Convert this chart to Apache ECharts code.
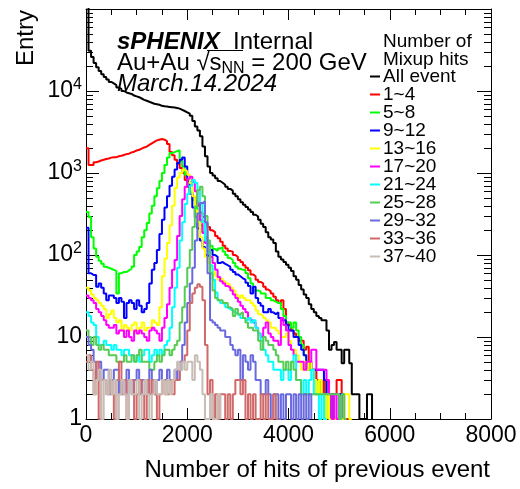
<!DOCTYPE html>
<html><head><meta charset="utf-8">
<script src="https://cdn.jsdelivr.net/npm/echarts@6/dist/echarts.min.js"></script>
<style>html,body{margin:0;padding:0;background:#fff}#c{width:520px;height:489px}</style>
</head><body><div id="c"></div>
<script>
const binWidth = 50;
const xMin = 0, xMax = 8000, xStep = 2000;
const yMin = 1, yMax = 100000;
const legendTitle = ['Number of', 'Mixup hits'];
const seriesNames = ['All event','1~4','5~8','9~12','13~16','17~20','21~24','25~28','29~32','33~36','37~40'];
const colors = ['#000000','#ff0000','#00ff00','#0000ff','#ffff00','#ff00ff','#00ffff','#55cc55','#6a6ae0','#d06a6a','#c8bdb5'];

const allEvent = [110000,31000,26000,22000,19500,17500,16000,14800,13800,12900,
 12400,11800,11000,10600,10000,9600,9400,9200,8800,8600,
 8400,8100,7800,7600,7400,7200,7000,6900,6800,6600,
 6500,6450,6400,6350,6300,6200,6100,5900,5700,5500,
 5300,5000,4300,3700,3300,2800,2100,1600,1200,1000,
 930,860,800,760,720,680,640,610,560,520,
 480,440,410,385,360,335,310,295,270,240,
 220,190,165,155,140,110,95,88,82,76,
 70,64,55,50,43,38,33,30,25,22,
 20,18,17,16,16,12,7,8,8.7,7,
 7,4.8,7,7,4.8,2,2,2,1,1,
 1,2,2];
const hits1to4 = [2000,1250,1250,1350,1380,1420,1450,1480,1500,1540,
 1560,1560,1600,1620,1660,1700,1720,1780,1820,1880,
 1920,1980,2050,2100,2200,2300,2400,2500,2550,2600,
 2550,2450,2250,1800,1650,1450,1300,1150,1000,820,
 680,580,510,450,400,330,290,240,220,200,
 190,170,160,145,130,120,112,110,100,95,
 87,82,75,70,65,58,55,50,47,45,
 41,38,36,34,31,28,26,28,22,15,
 14,12,11,10,9,9,7,7.6,5,4,
 4,3,3,2,3,2,2,1,2,3,
 3,2,1,1];
const hits5to8 = [335,290,165,120,95,85,78,72,70,68,
 66,64,34,60,62,62,65,68,72,100,
 110,125,165,200,245,320,400,520,650,800,
 1000,1250,1550,1750,1800,1850,1900,1400,1200,950,
 700,590,470,380,300,230,190,165,140,130,
 118,112,120,125,110,100,92,87,80,72,
 68,66,66,60,52,45,37,37,36,34,
 34,30,30,28,27,26,26,22,18,15,
 15,13,15,12,10,8,6,5,4,4,
 3,2,3,2,1,2,1,2,1];
const hits9to12 = [215,60,57,57,41,45,40,34,28,32,
 32,30,26,30,27,17,26,28,26,22,
 28,24,20,22,26,45,66,80,115,180,
 270,380,520,700,900,1100,1320,1450,1550,1200,
 800,560,380,290,210,150,125,100,95,115,
 100,95,80,82,78,75,72,66,62,58,
 55,52,50,46,42,34,41,30,26,24,
 20,20,22,20,19,20,17,16,16,14,
 12,12,10,10,8,7,6,4,5,4,
 4,4,4,4,3,2,1,2,1,1,2];
const hits13to16 = [40,37,33,30,28,26,24,22,17,19,
 21,17,15,16,12,14,13,12,14,15,
 11,13,15,12,13,13,16,15,14,23,
 55,90,140,230,400,650,880,1000,1100,1050,
 950,750,520,350,250,165,120,95,80,70,
 62,56,50,52,48,45,43,40,37,33,
 30,32,30,28,28,26,24,21,19,18,
 17,16,15,13,13,12,11,10,10,11,
 9,7,7,6,5,4,5,4,5,4,
 3,2,3,2,1,2,1,1,1,1,
 1,1,2,2,1];
const hits17to20 = [32,30,28,26,22,20,18,16,14,13,
 13,14,11,12,12,10,12,10,9,12,
 11,12,11,10,9,12,13,12,11,9,
 13,17,25,40,66,87,170,300,480,680,
 850,900,780,600,420,270,185,140,110,95,
 80,66,54,48,45,42,40,37,33,30,
 27,24,22,20,17,16,15,13,11,10,
 13,15,11,10,9,9,8,17,14,12,
 8,7,6,5,5,5,4,5,5,7,
 7,4,4,4,4,3,2,1,2,1];
const hits21to24 = [20,18,15,14,10,8,8,9,8,8,
 7,8,7,7,6,7,7,6,6,5,
 6,5,6,7,7,5,6,7,6,7,
 6,8,9,13,23,40,70,150,250,420,
 560,700,820,760,620,420,250,150,106,75,
 50,35,28,26,25,23,22,21,20,19,
 18,17,17,16,17,15,16,13,11,9,
 7,6,5,5,4,4,4,3,4,4,
 3,5,6,3,3,2,3,2,3,4,
 2,2,1,2,1];
const hits25to28 = [12,10,8,10,8,7,8,7,7,6,
 6,6,5,5,5,6,5,5,6,5,
 6,7,5,5,5,4,4,5,6,5,
 6,7,7,6,7,8,9,15,23,41,
 70,115,220,390,620,680,520,300,150,60,
 37,30,28,28,26,26,23,22,18,22,
 19,20,17,15,13,13,12,12,9,7,
 10,9,8,8,7,6,5,5,4,5,
 4,5,4,3,3,2,2,2,2,2,
 2,2,2,2,2,2,2,2,2,2,
 1,2,1];
const hits29to32 = [10,8,7,5,3,5,3,4,4,2,
 3,4,4,2,3,2,4,3,2,3,
 4,2,3,3,2,4,3,2,3,4,
 3,3,4,3,3,4,3,5,8,15,
 26,45,70,150,320,430,450,250,60,16,
 15,14,13,12,12,10,10,8,7,6,
 7,3,6,5,4,6,5,3,3,2,
 2,3,2,1,2,2,1,2,1,2,
 2,1,2,1,2,1,2,1,2];
const hits33to36 = [5,6,4,2,5,1,3,3,2,3,
 2,1,3,5,2,3,1,3,3,1,
 2,3,2,1,3,2,3,2,1,2,
 3,2,2,3,2,3,3,4,5,6,
 12,26,34,40,44,41,28,8,2,3,
 1,2,1,2,2,1,2,1,2,3,
 3,2,3,1,2,1,2,1,1,2,
 1,2,1,1,2,1];
const hits37to40 = [6,4,5,2,3,4,1,3,2,4,
 2,3,1,2,3,2,1,3,2,2,
 3,1,2,3,2,1,2,3,2,2,
 3,2,3,2,3,4,5,4,5,4,
 5,5,3,6,5,4,2,1,1,2,
 1,1,2];

const histos = [allEvent,hits1to4,hits5to8,hits9to12,hits13to16,hits17to20,hits21to24,hits25to28,hits29to32,hits33to36,hits37to40];
const FONT = '"Liberation Sans", Arial, sans-serif';

function toSteps(vals){
  const pts = vals.map((v,i)=>[i*binWidth, v]);
  pts.push([vals.length*binWidth, vals[vals.length-1]]);
  pts.push([vals.length*binWidth, yMin]);
  return pts;
}

const chart = echarts.init(document.getElementById('c'), null, {renderer:'canvas'});
const axisLineStyle = {show:true, onZero:false, lineStyle:{color:'#000', width:1}};
const option = {
  animation:false,
  backgroundColor:'#fff',
  grid:{left:86, right:29, top:9, bottom:70},
  xAxis:[
    {type:'value', min:xMin, max:xMax, interval:xStep, position:'bottom',
     axisLine:axisLineStyle,
     axisTick:{show:true, inside:true, length:11, lineStyle:{color:'#000'}},
     minorTick:{show:true, splitNumber:4, length:6, lineStyle:{color:'#000'}},
     splitLine:{show:false}, minorSplitLine:{show:false},
     axisLabel:{fontSize:23, fontFamily:FONT, color:'#000', margin:5, showMinLabel:true, showMaxLabel:true,
       formatter:function(v){return String(v);}}},
    {type:'value', min:xMin, max:xMax, interval:xStep, position:'top',
     axisLine:axisLineStyle,
     axisTick:{show:true, inside:true, length:11, lineStyle:{color:'#000'}},
     minorTick:{show:true, splitNumber:4, length:6, lineStyle:{color:'#000'}},
     splitLine:{show:false}, axisLabel:{show:false}}
  ],
  yAxis:[
    {type:'log', logBase:10, min:yMin, max:yMax, position:'left',
     axisLine:axisLineStyle,
     axisTick:{show:true, inside:true, length:13, lineStyle:{color:'#000'}},
     splitLine:{show:false},
     axisLabel:{fontSize:23, fontFamily:FONT, color:'#000', margin:4,
       formatter:function(v){const e=Math.round(Math.log10(v)); if(e===0)return '1'; if(e===1)return '10'; if(e>=5)return ''; return '{b|10}{s|'+e+'}';},
       rich:{b:{fontSize:23, fontFamily:FONT, color:'#000'}, s:{fontSize:16, fontFamily:FONT, color:'#000', padding:[0,0,12,0]}}}},
    {type:'log', logBase:10, min:yMin, max:yMax, position:'right',
     axisLine:axisLineStyle,
     axisTick:{show:true, inside:true, length:14, lineStyle:{color:'#000'}},
     splitLine:{show:false}, axisLabel:{show:false}}
  ],
  legend:{orient:'vertical', left:370, top:67, padding:0, itemWidth:10, itemHeight:2, itemGap:-1, icon:'rect',
    selectedMode:false, data:seriesNames,
    textStyle:{fontSize:19, fontFamily:FONT, color:'#000', lineHeight:17.2, padding:[0,0,0,-2]}},
  series: histos.map((vals,i)=>({
    name:seriesNames[i], type:'line', step:'end', showSymbol:false, symbol:'none',
    xAxisIndex:0, yAxisIndex:0, silent:true,
    data:toSteps(vals), lineStyle:{color:colors[i], width:2}, itemStyle:{color:colors[i]}
  }))
};
chart.setOption(option);

const g = [];
const xl = chart.convertToPixel({xAxisIndex:0}, xMin);
const xr = chart.convertToPixel({xAxisIndex:0}, xMax);
for (let d=0; d<5; d++){
  for (let k=2; k<=9; k++){
    const y = Math.round(chart.convertToPixel({yAxisIndex:0}, k*Math.pow(10,d)))+0.5;
    g.push({type:'line', silent:true, shape:{x1:xl, y1:y, x2:xl+7, y2:y}, style:{stroke:'#000', lineWidth:1}});
    g.push({type:'line', silent:true, shape:{x1:xr-7, y1:y, x2:xr, y2:y}, style:{stroke:'#000', lineWidth:1}});
  }
}
g.push({type:'text', silent:true, x:117, y:42, style:{text:'{b|sPHENIX}{n|  Internal}', verticalAlign:'middle', fill:'#000',
  rich:{b:{fontSize:24, fontWeight:'bold', fontStyle:'italic', fontFamily:FONT, fill:'#000'}, n:{fontSize:24, fontFamily:FONT, fill:'#000'}}}});
g.push({type:'text', silent:true, x:117, y:63, style:{text:'{n|Au+Au √s}{sub|NN}{n| = 200 GeV}', verticalAlign:'middle', fill:'#000',
  rich:{n:{fontSize:24, fontFamily:FONT, fill:'#000'}, sub:{fontSize:16, fontFamily:FONT, fill:'#000', padding:[12,0,0,0]}}}});
g.push({type:'line', silent:true, shape:{x1:207, y1:50.5, x2:243, y2:50.5}, style:{stroke:'#000', lineWidth:1}});
g.push({type:'text', silent:true, x:117, y:84, style:{text:'March.14.2024', font:'italic 24px '+FONT, verticalAlign:'middle', fill:'#000'}});
g.push({type:'text', silent:true, x:383, y:42, style:{text:legendTitle[0], font:'19px '+FONT, verticalAlign:'middle', fill:'#000'}});
g.push({type:'text', silent:true, x:383, y:60, style:{text:legendTitle[1], font:'19px '+FONT, verticalAlign:'middle', fill:'#000'}});
g.push({type:'text', silent:true, x:26, y:10, rotation:Math.PI/2, style:{text:'Entry', font:'24px '+FONT, align:'right', verticalAlign:'middle', fill:'#000'}});
g.push({type:'text', silent:true, x:490, y:470, style:{text:'Number of hits of previous event', font:'24px '+FONT, align:'right', verticalAlign:'middle', fill:'#000'}});
chart.setOption({graphic:g});
</script></body></html>
